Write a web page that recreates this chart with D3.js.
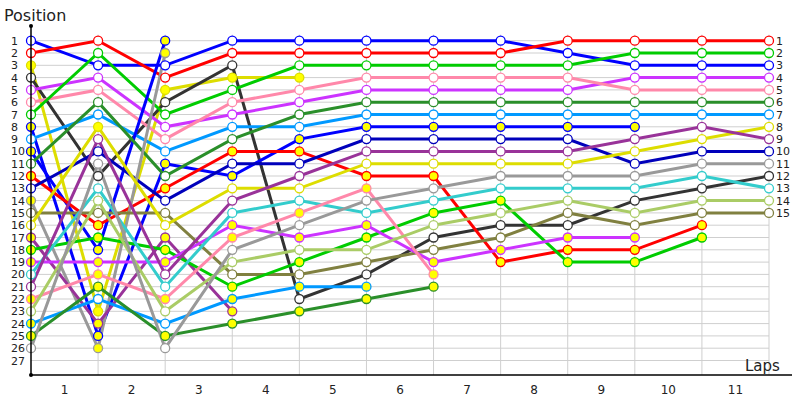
<!DOCTYPE html>
<html><head><meta charset="utf-8">
<script src="https://cdn.jsdelivr.net/npm/d3@7"></script>
<style>body{margin:0;background:#fff}text{font-family:"DejaVu Sans",Verdana,sans-serif}</style>
</head><body><svg id="c" width="800" height="400"></svg>
<script>
const lapLabels = ["1","2","3","4","5","6","7","8","9","10","11"];
const positionTicks = d3.range(1, 28);
// driver names (by line colour), colours, positions at start and after each lap
const drivers = ["blue","red","yellowA","black","violet","pink","green","blue2","ltblue","blue3","dkgreen","red2","navy","gray2","olive","yellow","purple2","green2","violet2","cyan","purple","pink2","ltgreen","ltblue2","dkgreen2","gray"];
const colors = ["#0000ff","#ff0000","#dddd00","#333333","#cc33ff","#ff88aa","#00cc00","#0000ff","#0099ff","#0000ff","#2a8f2a","#ff0000","#0000bb","#999999","#808040","#dddd00","#993399","#00cc00","#cc33ff","#33cccc","#993399","#ff88aa","#aacc66","#0099ff","#2a8f2a","#999999"];
const positions = [
 [1,3,3,1,1,1,1,1,2,3,3,3],
 [2,1,4,2,2,2,2,2,1,1,1,1],
 [3,23,5,4,4],
 [4,12,6,3,22,20,17,16,16,14,13,12],
 [5,4,8,7,6,5,5,5,5,4,4,4],
 [6,5,9,6,5,4,4,4,4,5,5,5],
 [7,2,7,5,3,3,3,3,3,2,2,2],
 [8,25,11,12,9,8,8,8,8,8],
 [9,7,10,8,8,7,7,7,7,7,7,7],
 [10,18,1],
 [11,6,12,9,7,6,6,6,6,6,6,6],
 [12,16,13,10,10,12,12,19,18,18,16],
 [13,10,14,11,11,9,9,9,9,11,10,10],
 [14,26,2],
 [15,15,15,20,20,19,18,17,15,16,15,15],
 [16,8,16,13,13,11,11,11,11,10,9,8],
 [17,24,17,23],
 [18,17,18,21,19,17,15,14,19,19,17],
 [19,19,19,16,17,16,19,18,17,17],
 [20,13,21,15,14,15,14,13,13,13,12,13],
 [21,9,20,14,12,10,10,10,10,9,8,9],
 [22,20,22,17,15,13,20],
 [23,14,23,19,18,18,16,15,14,15,14,14],
 [24,22,24,22,21,21],
 [25,21,25,24,23,22,21],
 [26,11,26,18,16,14,13,12,12,12,11,11]
];
// markers drawn with yellow fill (pit / lapped): per driver default, plus exceptions [driver, lap, filled]
const yellowFill = [0,0,1,0,0,0,0,1,0,1,0,1,0,1,0,0,1,1,1,0,0,1,0,1,1,0];
const fillExceptions = [["yellow",1,1],["ltblue2",1,0],["ltblue2",2,0]];

const svg = d3.select("#c");
const x = d3.scaleLinear().domain([0,11]).range([31,769]);
const y = d3.scaleLinear().domain([1,27]).range([40.7,360.5]);

const g = svg.append("g");
// grid
g.selectAll("line.h").data(positionTicks).join("line")
 .attr("x1",x(0)).attr("x2",x(11)).attr("y1",d=>y(d)).attr("y2",d=>y(d))
 .attr("stroke","#cfcfcf").attr("stroke-width",1);
g.selectAll("line.v").data(d3.range(1,12)).join("line")
 .attr("x1",d=>x(d)).attr("x2",d=>x(d)).attr("y1",y(1)-6).attr("y2",375)
 .attr("stroke","#cfcfcf").attr("stroke-width",1);
// axes
svg.append("line").attr("x1",31).attr("x2",31).attr("y1",26).attr("y2",375).attr("stroke","#000").attr("stroke-width",1.5);
svg.append("line").attr("x1",31).attr("x2",792).attr("y1",375).attr("y2",375).attr("stroke","#000").attr("stroke-width",1.5);
svg.append("circle").attr("cx",31).attr("cy",26).attr("r",2).attr("fill","#000");
svg.append("circle").attr("cx",31).attr("cy",375).attr("r",2).attr("fill","#000");
svg.append("text").attr("x",4).attr("y",21).attr("font-size",16).attr("fill","#222").text("Position");
svg.append("text").attr("x",745).attr("y",371).attr("font-size",15).attr("fill","#222").text("Laps");
svg.selectAll("text.l").data(positionTicks).join("text")
 .attr("x",11).attr("y",d=>y(d)+4).attr("font-size",11).attr("fill","#222").text(d=>d);
svg.selectAll("text.x").data(lapLabels).join("text")
 .attr("x",(d,i)=>x(i+0.5)).attr("y",394).attr("text-anchor","middle").attr("font-size",12).attr("fill","#222").text(d=>d);

const line = d3.line().x((d,i)=>x(i)).y(d=>y(d));
const data = drivers.map((n,k)=>({n,c:colors[k],p:positions[k],yf:yellowFill[k]}));
g.selectAll("path.d").data(data).join("path")
 .attr("d",d=>line(d.p)).attr("fill","none").attr("stroke",d=>d.c).attr("stroke-width",3);
data.forEach(d=>{
  const pts = d.p.map((v,i)=>{
    let f = d.yf;
    fillExceptions.forEach(e=>{ if(e[0]===d.n && e[1]===i) f=e[2]; });
    return {v,i,f};
  });
  g.selectAll(null).data(pts).join("circle")
   .attr("cx",p=>x(p.i)).attr("cy",p=>y(p.v)).attr("r",4.5)
   .attr("fill",p=>p.f?"#ffff00":"#fff").attr("stroke",d.c).attr("stroke-width",1.3);
});
// final position labels
const finals = data.filter(d=>d.p.length===12).map(d=>d.p[11]);
svg.selectAll("text.r").data(finals).join("text")
 .attr("x",776).attr("y",d=>y(d)+4).attr("font-size",11).attr("fill","#222").text(d=>d);
</script></body></html>
